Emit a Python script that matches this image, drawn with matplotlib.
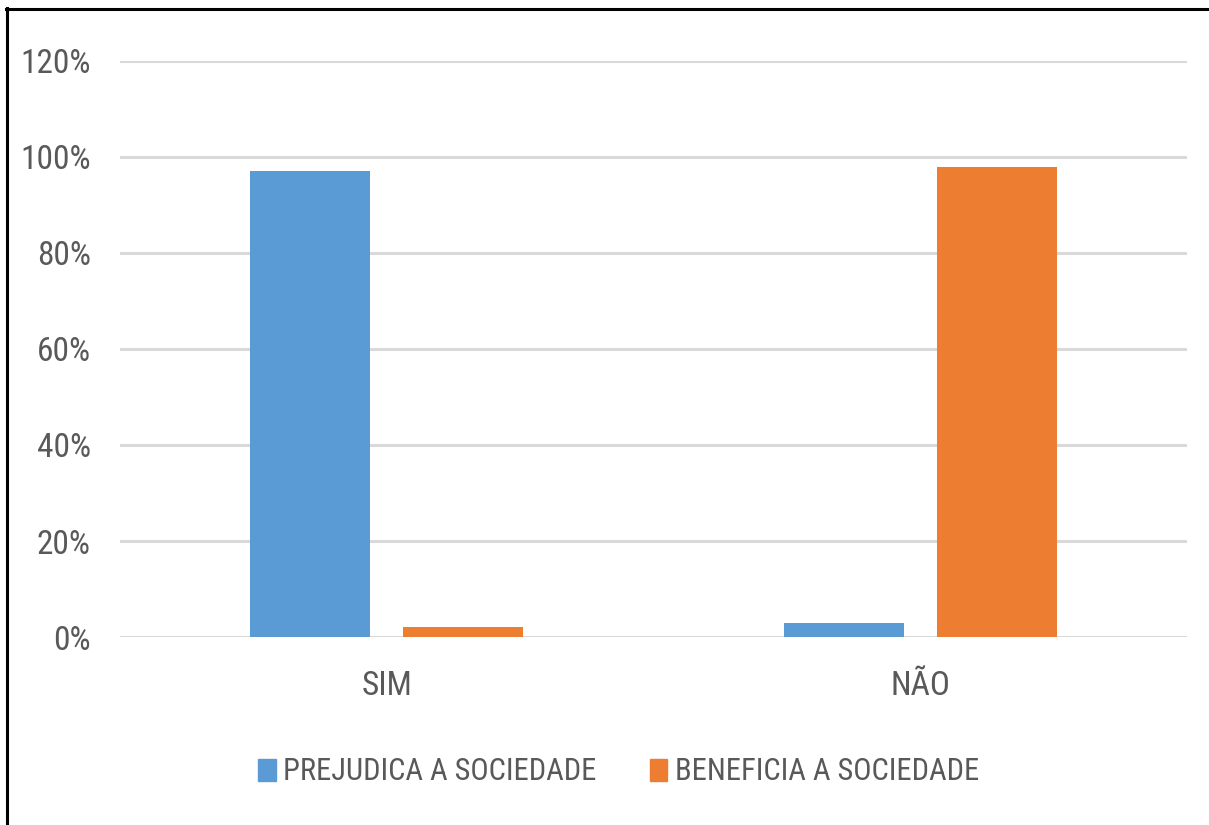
import matplotlib
matplotlib.use("Agg")
from matplotlib import pyplot as plt
from matplotlib.lines import Line2D
from matplotlib.patches import Patch
import numpy as np

categories = ["SIM", "NÃO"]
prejudica = [0.97, 0.03]
beneficia = [0.02, 0.98]
series_names = ["PREJUDICA A SOCIEDADE", "BENEFICIA A SOCIEDADE"]
yticks = [0, 0.2, 0.4, 0.6, 0.8, 1.0, 1.2]

blue = "#5b9bd5"
orange = "#ed7d31"
grey = "#595959"

plt.rcParams["font.family"] = ["Roboto Condensed", "Liberation Sans Narrow", "DejaVu Sans"]
plt.rcParams["font.stretch"] = "condensed"

W, H = 1209, 825
fig = plt.figure(figsize=(W / 100, H / 100), dpi=100)
ax = fig.add_axes([120 / W, (H - 637) / H, (1187 - 120) / W, (637 - 61) / H])

x = np.arange(len(categories))
width = 0.225
off = 0.143
ax.bar(x - off, prejudica, width, color=blue, zorder=3)
ax.bar(x + off, beneficia, width, color=orange, zorder=3)

ax.set_xlim(-0.5, 1.5)
ax.set_ylim(0, 1.2)
ax.set_yticks(yticks)
ax.set_yticklabels(["%d%%" % round(v * 100) for v in yticks])
ax.set_xticks(x)
ax.set_xticklabels(categories)
ax.tick_params(axis="y", length=0, pad=21, labelsize=24, labelcolor=grey)
ax.tick_params(axis="x", length=0, pad=24, labelsize=24, labelcolor=grey)
ax.grid(axis="y", color="#d9d9d9", linewidth=2.2, zorder=0)
for s in ax.spines.values():
    s.set_visible(False)

handles = [Patch(color=blue), Patch(color=orange)]
fig.legend(handles, series_names, loc="center", bbox_to_anchor=(619 / W, 1 - 772 / H),
           ncol=2, frameon=False, fontsize=22, labelcolor=grey,
           handlelength=0.56, handleheight=0.75, handletextpad=0.26,
           columnspacing=1.75)

# outer frame (left and top edges only visible)
fig.add_artist(Line2D([7 / W, 7 / W], [0, 1 - 8 / H], color="black", linewidth=2.2))
fig.add_artist(Line2D([6 / W, 1], [1 - 8.5 / H, 1 - 8.5 / H], color="black", linewidth=2.2))

plt.savefig("out.png", dpi=100)
